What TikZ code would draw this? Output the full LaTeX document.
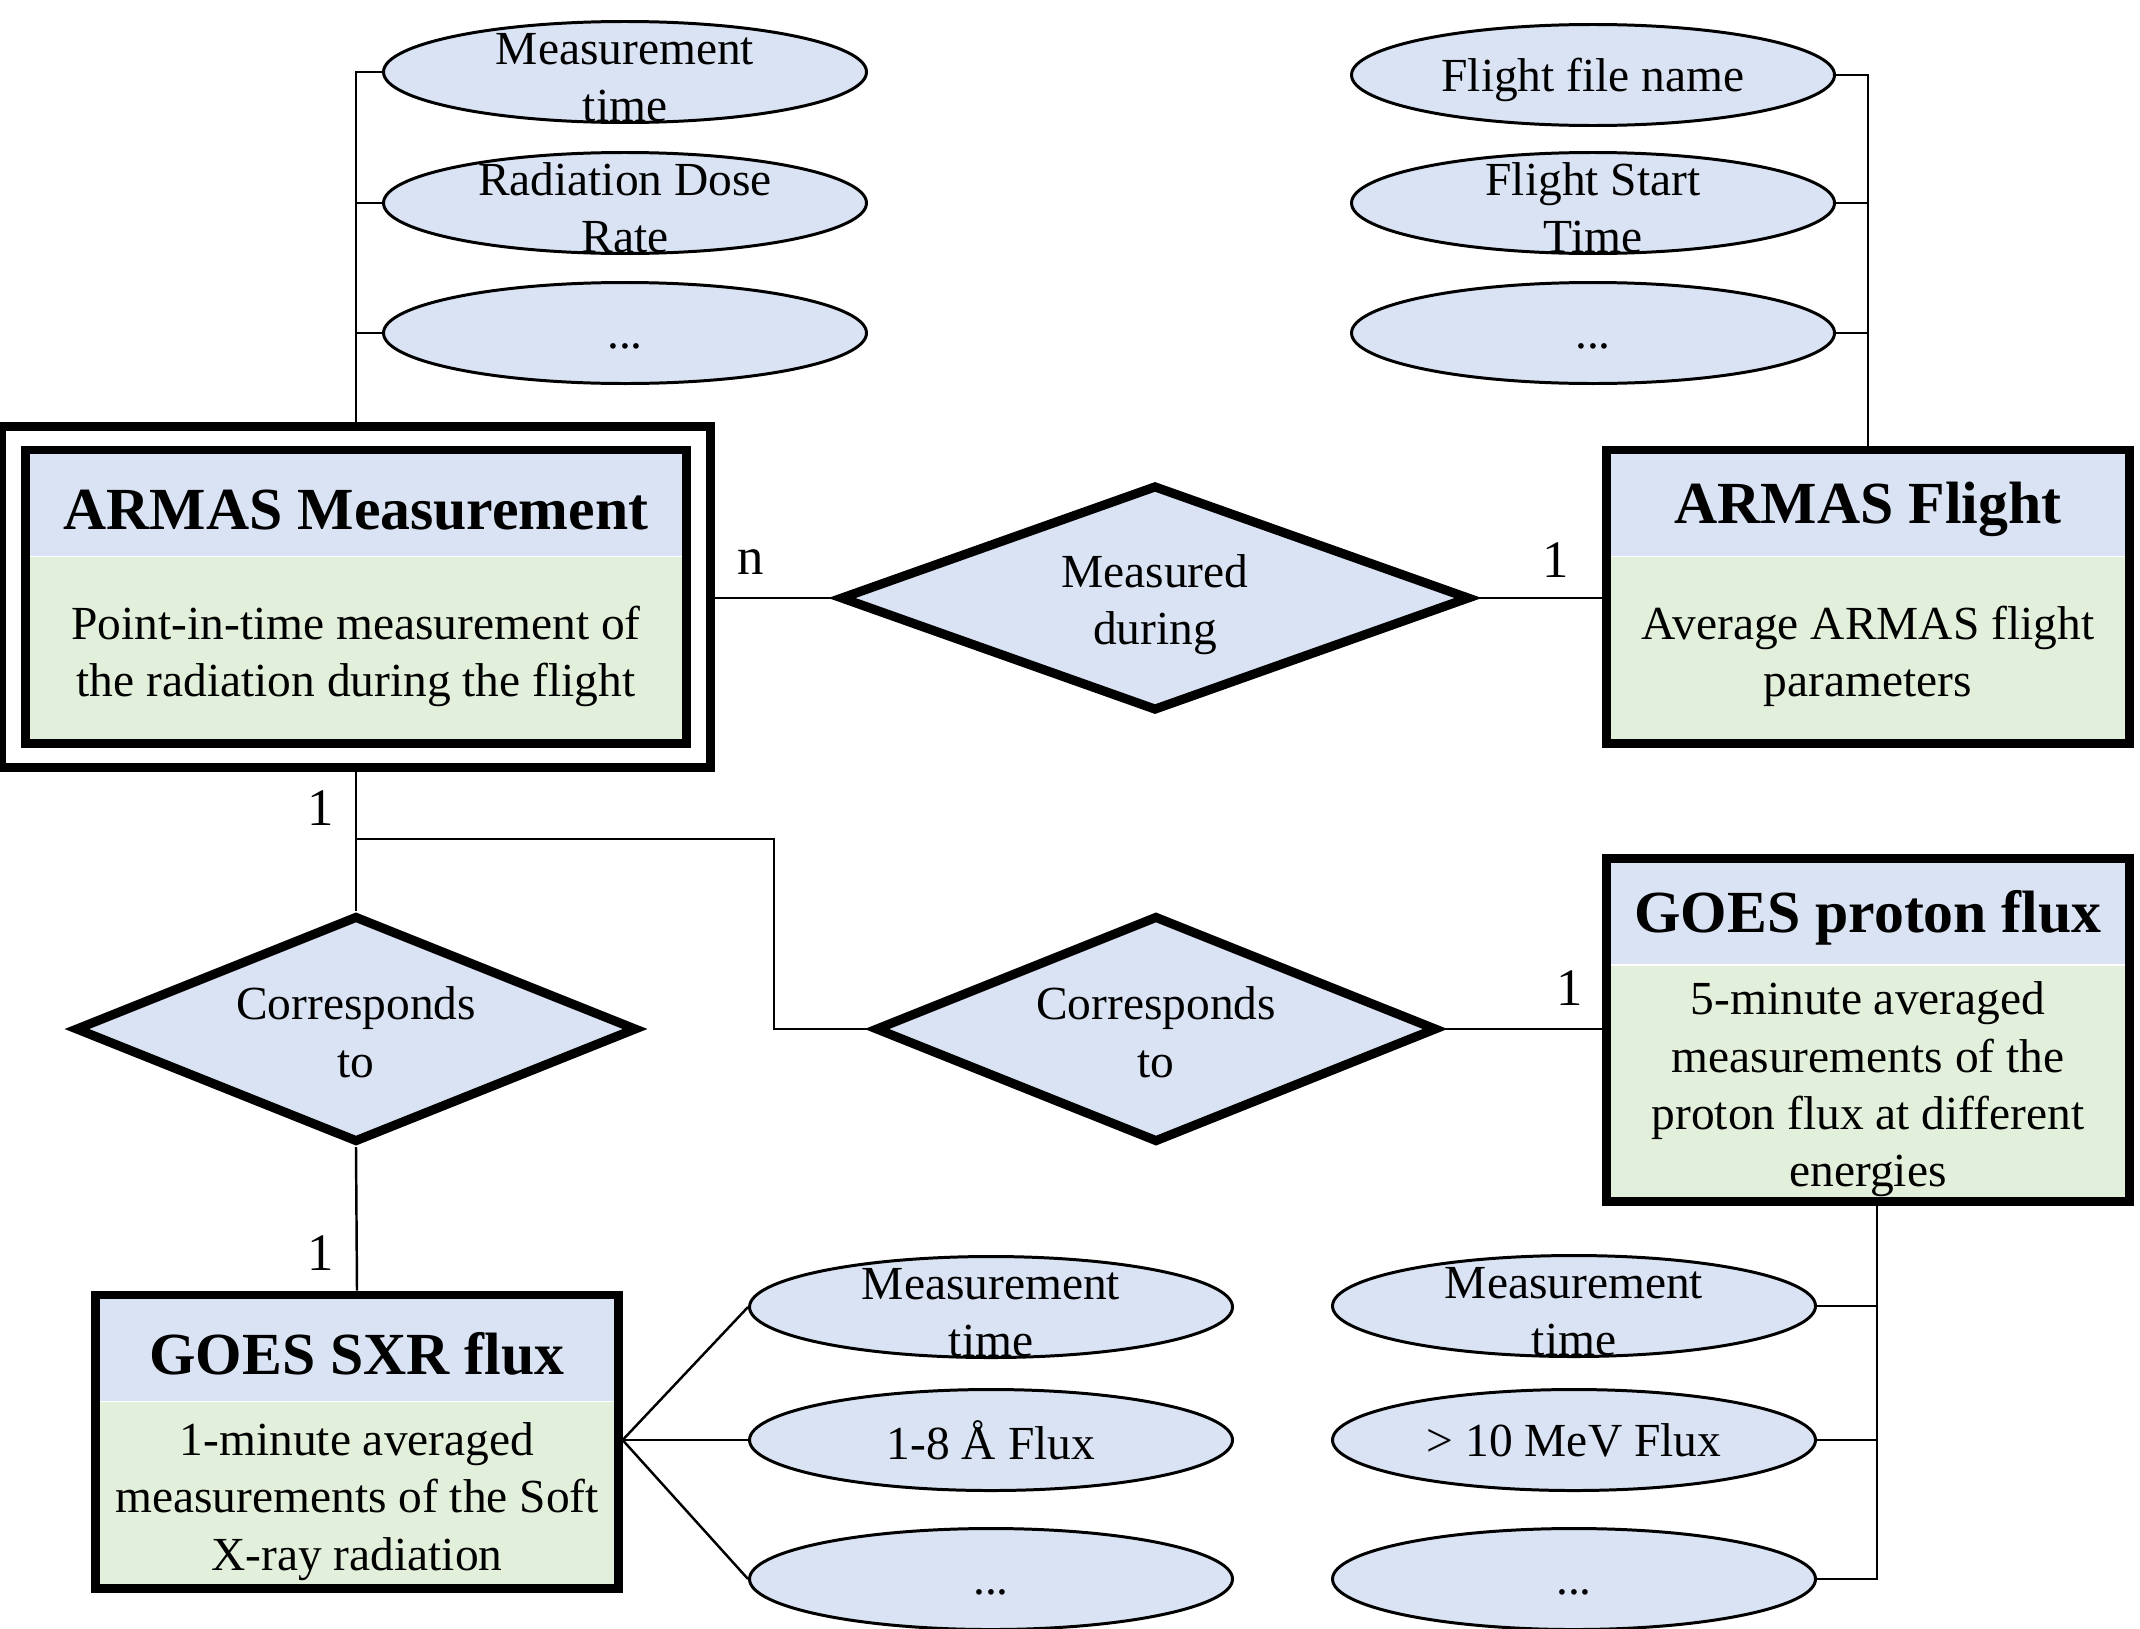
\documentclass[tikz,border=0pt]{standalone}
\usepackage{fontspec}
\setmainfont{Liberation Serif}
\usetikzlibrary{shapes.geometric,fit,positioning}
\definecolor{headblue}{RGB}{218,227,243}
\definecolor{bodygreen}{RGB}{226,239,218}
\tikzset{
  lowtext/.style={execute at begin node={\rule{0pt}{0.9em}}},
  enthead/.style={lowtext, fill=headblue, minimum width=5.21cm, minimum height=1.05cm, inner sep=0pt, font=\fontsize{17}{20}\selectfont\bfseries},
  entbody/.style={fill=bodygreen, minimum width=5.21cm, minimum height=1.86cm, inner sep=0pt, align=center, font=\fontsize{13.5}{16.3}\selectfont},
  entframe/.style={draw, line width=2.5pt, inner sep=0pt},
  attr/.style={ellipse, draw, line width=0.85pt, fill=headblue, minimum width=4.83cm, minimum height=1.01cm, inner xsep=0pt, inner ysep=-0.25cm, align=center, font=\fontsize{13.5}{16.3}\selectfont},
  rel/.style={diamond, draw, line width=2.6pt, fill=headblue, aspect=2.48, minimum width=5.62cm, minimum height=2.27cm, inner sep=0pt, align=center, font=\fontsize{13.5}{16.3}\selectfont},
  card/.style={inner sep=0pt, font=\fontsize{15}{18}\selectfont},
  link/.style={line width=0.7pt}
}
% first line of a stacked label sits a little lower
\newcommand{\topgap}[1][0.97em]{\rule{0pt}{#1}}
\newcommand{\moredots}{\rule[-3.5pt]{0pt}{15.6pt}...}
\begin{document}
\begin{tikzpicture}[line join=miter]
\useasboundingbox (0,0) rectangle (21.4,-16.28);
% entities
\node[entbody, minimum width=6.60cm] (measbody) at (3.56,-6.50) {\topgap Point-in-time measurement of\\the radiation during the flight};
\node[enthead, minimum width=6.60cm, above=0pt of measbody] (meashead) {ARMAS Measurement};
\node[entframe, fit=(meashead)(measbody)] (measbox) {};
\node[entframe, fit=(measbox), inner sep=0.19cm] (measouter) {};

\node[entbody] (flightbody) at (18.68,-6.50) {\topgap Average ARMAS flight\\parameters};
\node[enthead, above=0pt of flightbody] (flighthead) {ARMAS Flight};
\node[entframe, fit=(flighthead)(flightbody)] (flightbox) {};

\node[entbody, minimum height=2.35cm] (protonbody) at (18.68,-10.83) {\topgap 5-minute averaged\\measurements of the\\proton flux at different\\energies};
\node[enthead, above=0pt of protonbody] (protonhead) {GOES proton flux};
\node[entframe, fit=(protonhead)(protonbody)] (protonbox) {};

\node[entbody] (sxrbody) at (3.57,-14.95) {\topgap 1-minute averaged\\measurements of the Soft\\X-ray radiation};
\node[enthead, above=0pt of sxrbody] (sxrhead) {GOES SXR flux};
\node[entframe, fit=(sxrhead)(sxrbody)] (sxrbox) {};

% relationships
\node[rel, aspect=2.79, minimum width=6.30cm, minimum height=2.26cm] (during) at (11.55,-5.98) {\topgap Measured\\during};
\node[rel] (corrsxr) at (3.56,-10.29) {\topgap[0.83em]Corresponds\\to};
\node[rel] (corrproton) at (11.56,-10.29) {\topgap[0.83em]Corresponds\\to};

% attributes
\node[attr] (mtime) at (6.25,-0.72) {\topgap[0.9em]Measurement\\time};
\node[attr] (mdose) at (6.25,-2.03) {\topgap[0.9em]Radiation Dose\\Rate};
\node[attr] (mmore) at (6.25,-3.33) {\moredots};
\node[attr, lowtext] (fname) at (15.93,-0.75) {Flight file name};
\node[attr] (fstart) at (15.93,-2.03) {\topgap[0.9em]Flight Start\\Time};
\node[attr] (fmore) at (15.93,-3.33) {\moredots};
\node[attr] (stime) at (9.91,-13.07) {\topgap[0.9em]Measurement\\time};
\node[attr] (sflux) at (9.91,-14.40) {1-8 Å Flux};
\node[attr] (smore) at (9.91,-15.79) {\moredots};
\node[attr] (ptime) at (15.74,-13.06) {\topgap[0.9em]Measurement\\time};
\node[attr] (pflux) at (15.74,-14.40) {> 10 MeV Flux};
\node[attr] (pmore) at (15.74,-15.79) {\moredots};

% connectors
\draw[link] (mtime.west) -| (measouter.north);
\draw[link] (mdose.west) -- (mdose.west -| measouter.north);
\draw[link] (mmore.west) -- (mmore.west -| measouter.north);
\draw[link] (fname.east) -| (flightbox.north);
\draw[link] (fstart.east) -- (fstart.east -| flightbox.north);
\draw[link] (fmore.east) -- (fmore.east -| flightbox.north);
\coordinate (pdrop) at ([xshift=0.09cm]protonbox.south);
\draw[link] (pdrop) |- (pmore.east);
\draw[link] (ptime.east) -- (ptime.east -| pdrop);
\draw[link] (pflux.east) -- (pflux.east -| pdrop);
\coordinate (fan) at (sxrbox.east |- sflux.west);
\draw[link] (fan) -- (stime.west);
\draw[link] (fan) -- (sflux.west);
\draw[link] (fan) -- (smore.west);

\draw[link] (during.west) -- (during.west -| measouter.east);
\draw[link] (during.east) -- (during.east -| flightbox.west);
\draw[link] (measouter.south) -- (corrsxr.north);
\draw[link] (corrsxr.south) -- (sxrbox.north);
\coordinate (split) at (3.56,-8.39);
\coordinate (bend) at (7.74,-8.39);
\draw[link] (split) -- (bend) |- (corrproton.west);
\draw[link] (corrproton.east) -- (corrproton.east -| protonbox.west);

% cardinalities
\node[card] (cardn) at (7.51,-5.62) {n};
\node[card] (cardflight) at (15.56,-5.60) {1};
\node[card] (cardmeas) at (3.21,-8.08) {1};
\node[card] (cardsxr) at (3.21,-12.53) {1};
\node[card] (cardproton) at (15.70,-9.88) {1};
\end{tikzpicture}
\end{document}
